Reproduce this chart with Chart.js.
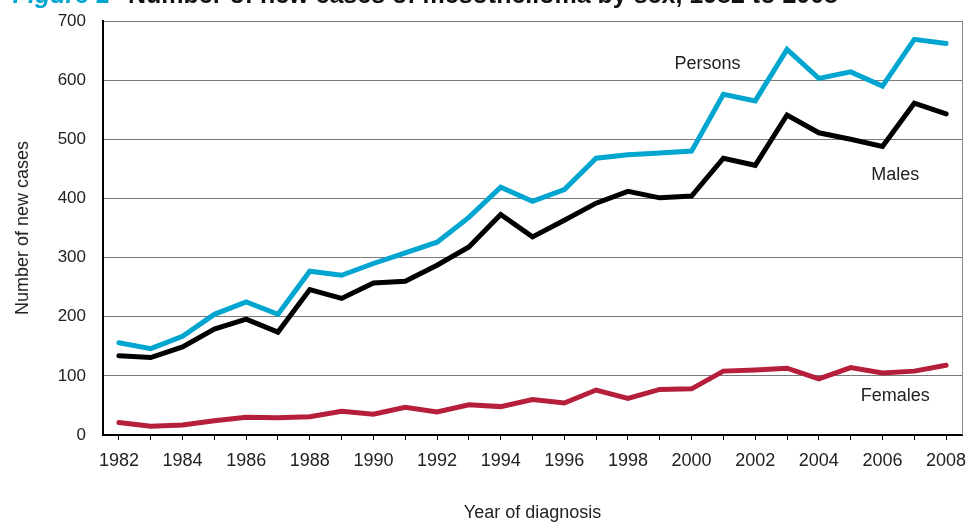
<!DOCTYPE html>
<html>
<head>
<meta charset="utf-8">
<script src="https://cdn.jsdelivr.net/npm/chart.js@4/dist/chart.umd.min.js"></script>
<style>
  html, body { margin: 0; padding: 0; background: #fff; }
  #wrap { width: 971px; height: 522px; position: relative; }
</style>
</head>
<body>
<div id="wrap"><canvas id="meso"></canvas></div>
<script>
const years = ['1982','1983','1984','1985','1986','1987','1988','1989','1990','1991','1992','1993','1994',
  '1995','1996','1997','1998','1999','2000','2001','2002','2003','2004','2005','2006','2007','2008'];

const persons = [156,146,167,204,225,204,277,270,290,308,326,368,419,395,415,468,474,477,480,576,565,652,603,614,590,669,662];
const males   = [134,131,149,179,196,174,246,231,257,260,287,318,373,335,363,392,412,401,404,468,456,541,511,500,488,561,543];
const females = [21,15,17,24,30,29,31,40,35,47,39,51,48,60,54,76,62,77,78,108,110,113,95,114,105,108,118];

const yTicks = [0,100,200,300,400,500,600,700];

// series labels written onto the plot: [text, x index, y value]
const seriesLabels = [
  ['Persons', 18.5, 628],
  ['Males', 24.4, 439],
  ['Females', 24.4, 66]
];

const titleParts = ['Figure 1', 'Number of new cases of mesothelioma by sex, 1982 to 2008'];

const FONT = "'Liberation Sans', Arial, sans-serif";

const extras = {
  id: 'extras',
  afterDraw(chart) {
    const ctx = chart.ctx;
    const area = chart.chartArea;
    const xs = chart.scales.x, ys = chart.scales.y;
    ctx.save();
    // right border of the plot
    ctx.strokeStyle = '#8a8a8a';
    ctx.lineWidth = 1;
    ctx.beginPath();
    ctx.moveTo(area.right + 0.5, area.top);
    ctx.lineTo(area.right + 0.5, area.bottom);
    ctx.stroke();

    // in-plot series names
    ctx.fillStyle = '#222';
    ctx.font = '18px ' + FONT;
    ctx.textAlign = 'center';
    ctx.textBaseline = 'middle';
    seriesLabels.forEach(([t, xi, yv]) => {
      ctx.fillText(t, xs.getPixelForValue(xi), ys.getPixelForValue(yv));
    });

    // title, mostly cut off at the top of the image
    ctx.textBaseline = 'alphabetic';
    ctx.font = 'italic bold 25px ' + FONT;
    ctx.fillStyle = '#00a5d0';
    ctx.textAlign = 'right';
    ctx.fillText(titleParts[0], 110, 3);
    ctx.font = 'bold 25px ' + FONT;
    ctx.fillStyle = '#111';
    ctx.textAlign = 'left';
    ctx.fillText(titleParts[1], 128, 3);
    ctx.restore();
  }
};

function line(label, data, color) {
  return {
    label: label,
    data: data,
    borderColor: color,
    backgroundColor: color,
    borderWidth: 5,
    pointRadius: 0,
    tension: 0,
    fill: false,
    borderCapStyle: 'round',
    borderJoinStyle: 'miter'
  };
}

new Chart(document.getElementById('meso'), {
  type: 'line',
  data: {
    labels: years,
    datasets: [
      line('Persons', persons, '#00a5d0'),
      line('Males', males, '#000000'),
      line('Females', females, '#b51f3b')
    ]
  },
  options: {
    responsive: true,
    maintainAspectRatio: false,
    animation: false,
    layout: { padding: { top: 21, right: 9, left: 0, bottom: 0 } },
    plugins: {
      legend: { display: false },
      tooltip: { enabled: false }
    },
    scales: {
      x: {
        offset: true,
        grid: {
          offset: false,
          drawOnChartArea: false,
          drawTicks: true,
          tickLength: 5,
          color: '#000'
        },
        border: { color: '#000', width: 2 },
        ticks: {
          autoSkip: false,
          maxRotation: 0,
          padding: 10,
          color: '#222',
          font: { family: FONT, size: 18 },
          callback: function (v, i) { return i % 2 === 0 ? years[i] : ''; }
        },
        title: {
          display: true,
          text: 'Year of diagnosis',
          color: '#222',
          font: { family: FONT, size: 18 },
          padding: { top: 0, bottom: -2 }
        },
        afterFit: function (s) {
          s.height = 87;
          s.paddingLeft = 0;
          s.paddingRight = 0;
        }
      },
      y: {
        min: 0,
        max: 700,
        afterBuildTicks: function (s) { s.ticks = yTicks.map(v => ({ value: v })); },
        grid: { color: '#7a7a7a', lineWidth: 1, drawTicks: false },
        border: { color: '#000', width: 2 },
        ticks: {
          padding: 17,
          color: '#222',
          font: { family: FONT, size: 17 }
        },
        title: {
          display: true,
          text: 'Number of new cases',
          color: '#222',
          font: { family: FONT, size: 18 },
          padding: { top: 12, bottom: 0 }
        },
        afterFit: function (s) {
          s.width = 103;
          s.paddingTop = 0;
          s.paddingBottom = 0;
        }
      }
    }
  },
  plugins: [extras]
});
</script>
</body>
</html>
